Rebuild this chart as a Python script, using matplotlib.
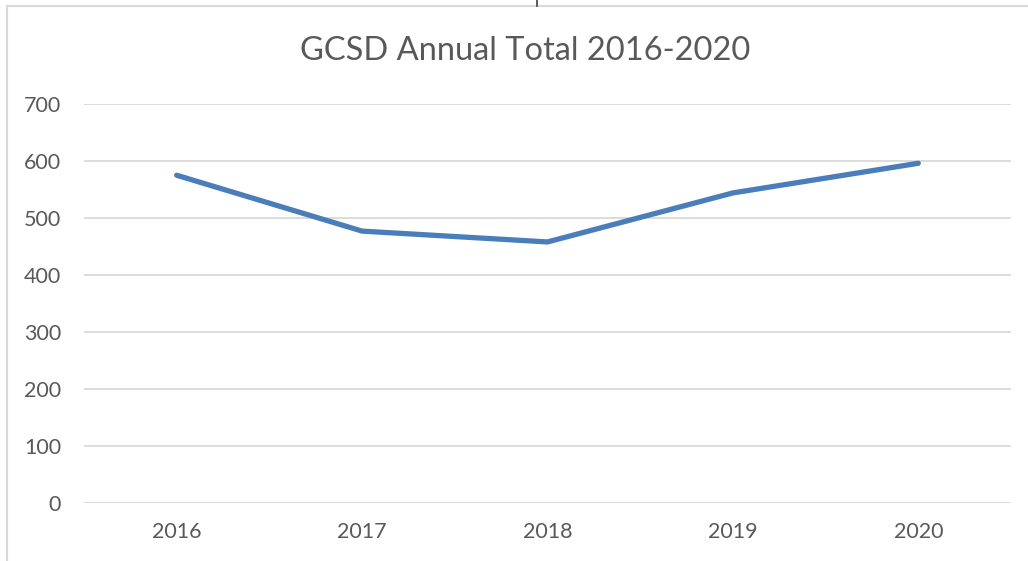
import matplotlib.pyplot as plt
from matplotlib.patches import Rectangle
from matplotlib.lines import Line2D

# data
years = ["2016", "2017", "2018", "2019", "2020"]
totals = [575, 477, 458, 544, 596]
yticks = [0, 100, 200, 300, 400, 500, 600, 700]

W, H = 1028, 561
fig = plt.figure(figsize=(W / 100, H / 100), dpi=100)

# chart frame (partly cut off in the screenshot)
fig.patches.append(Rectangle((7 / W, -0.1), 1.2, 1 - 6 / H + 0.1, transform=fig.transFigure,
                             fill=False, edgecolor="#d9d9d9", linewidth=1.5))
# little stray mark at the top edge
fig.lines.append(Line2D([537 / W, 537 / W], [1, 1 - 6 / H], transform=fig.transFigure,
                        color="#404040", linewidth=1.2))

ax = fig.add_axes([84 / W, 1 - 503 / H, (1011 - 84) / W, (503 - 104) / H])
x = range(len(years))
ax.plot(x, totals, color="#4a7ebb", linewidth=3.8, solid_capstyle="round",
        solid_joinstyle="round", zorder=3)

ax.set_xlim(-0.5, len(years) - 0.5)
ax.set_ylim(0, 700)
ax.set_yticks(yticks)
ax.set_xticks(list(x))
ax.set_xticklabels(years)
ax.grid(axis="y", color="#d9d9d9", linewidth=1.3)
ax.set_axisbelow(True)
for s in ax.spines.values():
    s.set_visible(False)
ax.tick_params(length=0, labelsize=15.5, labelcolor="#595959")
ax.tick_params(axis="y", pad=16.5)
ax.tick_params(axis="x", pad=14)
for lab in ax.get_xticklabels() + ax.get_yticklabels():
    lab.set_family("Lato")

fig.text(525 / W, 1 - 51 / H, "GCSD Annual Total 2016-2020", ha="center", va="center",
         fontsize=23.5, color="#595959", family="Lato")

fig.savefig("out.png", dpi=100)
